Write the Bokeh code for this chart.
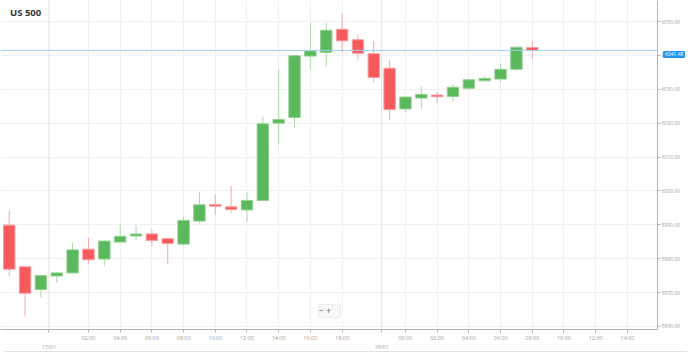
from bokeh.plotting import figure
from bokeh.models import Range1d, FixedTicker, Span, Label, PrintfTickFormatter, ColumnDataSource, Div
from bokeh.layouts import column
from bokeh.embed import file_html
from bokeh.resources import INLINE

# ---------------- data (hourly candles, US 500) ----------------
opens = [5989.9, 5977.6, 5970.9, 5974.9, 5975.8, 5982.8, 5979.9, 5984.9, 5986.7, 5987.3,
         5985.9, 5984.3, 5991.1, 5996.0, 5995.3, 5994.4, 5997.2, 6020.0, 6021.7, 6039.8,
         6040.9, 6047.7, 6044.6, 6040.5, 6036.2, 6024.2, 6027.4, 6028.3, 6027.9, 6030.3,
         6032.5, 6033.0, 6035.9, 6042.3]
highs = [5994.1, 5977.8, 5975.1, 5976.1, 5984.7, 5986.1, 5985.4, 5990.1, 5989.9, 5988.5,
         5986.1, 5992.4, 5999.7, 5999.0, 6001.5, 5999.6, 6021.9, 6035.9, 6040.0, 6049.6,
         6049.6, 6052.5, 6046.1, 6044.3, 6038.6, 6027.8, 6030.8, 6029.3, 6031.5, 6032.9,
         6033.8, 6037.6, 6042.4, 6044.2]
lows = [5974.9, 5962.9, 5968.5, 5972.8, 5975.6, 5978.5, 5977.9, 5984.8, 5985.5, 5983.6,
        5978.3, 5983.8, 5990.4, 5993.0, 5993.5, 5990.9, 5997.0, 6013.7, 6018.8, 6035.9,
        6036.7, 6040.9, 6038.5, 6032.0, 6020.9, 6023.3, 6024.2, 6026.0, 6026.4, 6029.9,
        6032.4, 6032.1, 6035.5, 6039.0]
closes = [5976.9, 5969.8, 5975.0, 5975.8, 5982.6, 5979.7, 5985.2, 5986.6, 5987.3, 5985.4,
          5984.5, 5991.3, 5995.9, 5995.5, 5994.5, 5997.2, 6019.8, 6021.1, 6039.9, 6041.3,
          6047.4, 6044.3, 6040.6, 6033.5, 6024.0, 6027.7, 6028.5, 6027.8, 6030.6, 6032.8,
          6033.2, 6035.9, 6042.4, 6041.48]
last_price = 6041.48

time_tick_pos = [5, 7, 9, 11, 13, 15, 17, 19, 21, 25, 27, 29, 31, 33, 35, 37, 39]
time_tick_labels = ["02:00", "04:00", "06:00", "08:00", "10:00", "12:00", "14:00", "16:00", "18:00",
                    "00:00", "02:00", "04:00", "06:00", "08:00", "10:00", "12:00", "14:00"]
date_tick_pos = [2.5, 23.5]
date_tick_labels = ["17/01", "19/01"]
price_ticks = [5960, 5970, 5980, 5990, 6000, 6010, 6020, 6030, 6040, 6050]

# ---------------- styling ----------------
GREEN = "#5cb85c"
RED = "#f65a5e"
GREEN_WICK = "#a9dba9"
RED_WICK = "#f9a7a9"
GREEN_EDGE = "#8fd08f"
RED_EDGE = "#fb9a9c"
FRAME_W, FRAME_H = 657, 329
Y0, Y1 = 5959.1, 6056.2

idx = list(range(len(opens)))
up = [c >= o for o, c in zip(opens, closes)]
src = ColumnDataSource(dict(
    x=idx,
    top=[max(o, c) for o, c in zip(opens, closes)],
    bottom=[min(o, c) for o, c in zip(opens, closes)],
    high=highs, low=lows,
    fill=[GREEN if u else RED for u in up],
    edge=[GREEN_EDGE if u else RED_EDGE for u in up],
    wick=[GREEN_WICK if u else RED_WICK for u in up],
))

p = figure(frame_width=FRAME_W, frame_height=FRAME_H, output_backend="svg", toolbar_location=None,
           x_range=Range1d(-0.55, 40.9), y_range=Range1d(Y0, Y1),
           y_axis_location="right", min_border_left=0, min_border_top=0,
           min_border_right=0, min_border_bottom=0)
p.outline_line_color = None
p.background_fill_color = "white"
p.border_fill_color = "white"

# axes
xa = p.xaxis[0]
xa.ticker = FixedTicker(ticks=time_tick_pos + date_tick_pos)
overrides = {pos: lab for pos, lab in zip(time_tick_pos, time_tick_labels)}
for pos, lab in zip(date_tick_pos, date_tick_labels):
    overrides[pos] = "\n" + lab
xa.major_label_overrides = overrides
xa.axis_line_color = "#b5b5b5"
xa.major_tick_line_color = "#b5b5b5"
xa.major_tick_out = 3
xa.major_tick_in = 0
xa.minor_tick_line_color = None
xa.major_label_text_font_size = "5.5px"
xa.major_label_text_color = "#a0a0a0"
xa.major_label_text_font = "Open Sans"
xa.major_label_standoff = 1

ya = p.yaxis[0]
ya.ticker = FixedTicker(ticks=price_ticks)
ya.formatter = PrintfTickFormatter(format="%.2f")
ya.axis_line_color = "#b5b5b5"
ya.major_tick_line_color = "#b5b5b5"
ya.major_tick_out = 3
ya.major_tick_in = 0
ya.minor_tick_line_color = None
ya.major_label_text_font_size = "5px"
ya.major_label_text_color = "#a0a0a0"
ya.major_label_text_font = "Open Sans"
ya.major_label_standoff = 1

# grids
p.xgrid.ticker = FixedTicker(ticks=time_tick_pos)
p.xgrid.grid_line_color = "#f1f1f1"
p.ygrid.grid_line_color = "#f1f1f1"
for pos in date_tick_pos:
    p.add_layout(Span(location=pos, dimension="height", line_color="#e3e3e3", line_width=1))

# candles
p.segment(x0="x", y0="low", x1="x", y1="high", line_color="wick", line_width=1, source=src)
p.vbar(x="x", width=0.72, top="top", bottom="bottom", fill_color="fill",
       line_color="edge", line_width=1, source=src)

# current price line
p.add_layout(Span(location=last_price, dimension="width", line_color="#9fcdf2", line_width=1))

# title
p.add_layout(Label(x=0.05, y=6052.8, text="US 500", text_font_size="9.5px",
                   text_font_style="bold", text_color="#333333", text_font="Open Sans",
                   text_baseline="middle", text_align="left"))

# zoom control
p.add_layout(Label(x=20.2, y=5964.6, text=" \u2212   + ", text_font_size="9px",
                   text_color="#666666", text_font="Open Sans", text_baseline="middle",
                   text_align="center", background_fill_color="#f7f7f7",
                   border_line_color="#ececec"))

# price tag on the right axis (overlaid)
tag_top = (Y1 - last_price) / (Y1 - Y0) * FRAME_H - 3.5
tag = Div(text=f"{last_price:.2f}", styles={
    "position": "absolute", "left": f"{FRAME_W + 1}px", "top": f"{tag_top:.1f}px",
    "background-color": "#2196f3", "color": "white", "font-size": "5px",
    "font-family": "Open Sans", "line-height": "7px", "padding": "0px 2px",
    "border-radius": "1px", "z-index": "10"})

# container bottom border
border = Div(text="", styles={
    "position": "absolute", "left": "0px", "top": "346px", "width": "682px",
    "height": "1px", "background-color": "#e2e2e2", "z-index": "5"})

layout = column(p, tag, border)
open("out.html", "w").write(file_html(layout, INLINE))
